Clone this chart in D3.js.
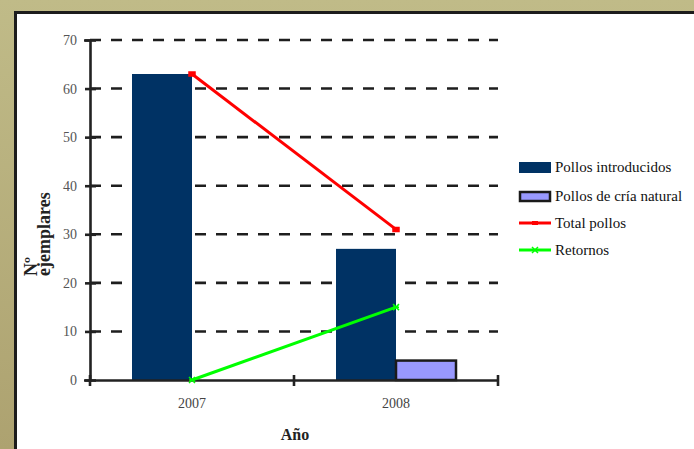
<!DOCTYPE html>
<html>
<head>
<meta charset="utf-8">
<script src="https://cdn.jsdelivr.net/npm/d3@7"></script>
<style>
  html, body { margin: 0; padding: 0; background: #bdb886; }
  svg { display: block; }
</style>
</head>
<body>
<svg id="canvas"></svg>
<script>
// chart data
var years = ["2007", "2008"];
var barSeries = ["Pollos introducidos", "Pollos de cría natural"];
var introducidos = [63, 27];
var criaNatural = [0, 4];
var totalPollos = [63, 31];
var retornos = [0, 15];
var yTicks = [0, 10, 20, 30, 40, 50, 60, 70];

document.addEventListener("DOMContentLoaded", () => {
  const W = 694, H = 449;
  const left = 90, right = 498, top = 40, bottom = 380;
  const serif = '"Liberation Serif", "Times New Roman", serif';

  var svg = d3.select('#canvas')
    .attr('width', W)
    .attr('height', H)
    .attr('font-family', serif);

  // khaki background + framed white panel
  var grad = svg.append('defs').append('linearGradient')
    .attr('id', 'bg').attr('x1', 0).attr('y1', 0).attr('x2', 0).attr('y2', 1);
  grad.append('stop').attr('offset', '0%').attr('stop-color', '#c0bb88');
  grad.append('stop').attr('offset', '100%').attr('stop-color', '#ada270');
  svg.append('rect').attr('width', W).attr('height', H).attr('fill', 'url(#bg)');
  svg.append('rect')
    .attr('x', 15.5).attr('y', 12.5)
    .attr('width', 720).attr('height', 480)
    .attr('fill', '#ffffff')
    .attr('stroke', '#1c1c1c')
    .attr('stroke-width', 3);

  var y = d3.scaleLinear().domain([0, 70]).range([bottom, top]);
  var x = d3.scaleBand().domain(years).range([left, right]).padding(0);
  var x1 = d3.scaleBand().domain(barSeries).range([0, x.bandwidth()])
    .paddingInner(0).paddingOuter(0.7);

  // dashed gridlines
  svg.append('g').selectAll('line')
    .data(yTicks.filter(d => d > 0))
    .join('line')
    .attr('x1', left).attr('x2', right)
    .attr('y1', d => y(d)).attr('y2', d => y(d))
    .attr('stroke', '#1e1e1e')
    .attr('stroke-width', 2.6)
    .attr('stroke-dasharray', '11,10');

  // bars
  var colors = { "Pollos introducidos": "#003264", "Pollos de cría natural": "#9999ff" };
  var rows = [];
  years.forEach((yr, i) => {
    rows.push({ year: yr, key: barSeries[0], value: introducidos[i] });
    rows.push({ year: yr, key: barSeries[1], value: criaNatural[i] });
  });
  svg.append('g').selectAll('rect')
    .data(rows.filter(d => d.value > 0))
    .join('rect')
    .attr('x', d => x(d.year) + x1(d.key))
    .attr('y', d => y(d.value))
    .attr('width', x1.bandwidth())
    .attr('height', d => y(0) - y(d.value))
    .attr('fill', d => colors[d.key])
    .attr('stroke', d => d.key === barSeries[1] ? '#1a1a1a' : 'none')
    .attr('stroke-width', 2.5);

  // y axis
  var yAxis = svg.append('g')
    .attr('transform', `translate(${left},0)`)
    .call(d3.axisLeft(y).tickValues(yTicks).tickSize(6).tickPadding(7));
  yAxis.attr('font-family', serif);
  yAxis.select('.domain').attr('stroke', '#222').attr('stroke-width', 2.6);
  yAxis.selectAll('.tick line').attr('x1', 6).attr('x2', -5)
    .attr('stroke', '#222').attr('stroke-width', 2.6);
  yAxis.selectAll('.tick text')
    .attr('font-size', 14).attr('fill', '#555');

  // x axis
  var xAxis = svg.append('g')
    .attr('transform', `translate(0,${bottom})`)
    .call(d3.axisBottom(x).tickSize(0).tickPadding(18));
  xAxis.attr('font-family', serif);
  xAxis.select('.domain').attr('stroke', '#222').attr('stroke-width', 2.6);
  xAxis.selectAll('.tick text')
    .attr('font-size', 14).attr('fill', '#444');
  var bounds = years.map(d => x(d)).concat([x(years[years.length - 1]) + x.bandwidth()]);
  xAxis.append('g').selectAll('line')
    .data(bounds)
    .join('line')
    .attr('x1', d => d).attr('x2', d => d)
    .attr('y1', -5).attr('y2', 6)
    .attr('stroke', '#222').attr('stroke-width', 2.6);

  // lines
  var cx = d => x(d) + x.bandwidth() / 2;
  function drawSeries(values, color, marker) {
    var pts = years.map((yr, i) => [cx(yr), y(values[i])]);
    svg.append('path')
      .attr('d', d3.line()(pts))
      .attr('fill', 'none')
      .attr('stroke', color)
      .attr('stroke-width', 3);
    svg.append('g').selectAll('path')
      .data(pts)
      .join('path')
      .attr('d', d => marker(d[0], d[1]))
      .attr('fill', color)
      .attr('stroke', color)
      .attr('stroke-width', 1.5);
  }
  var squareMark = (px, py) => `M${px - 3},${py - 2}h6v4h-6z`;
  var starMark = (px, py) => `M${px - 3},${py - 3}L${px + 3},${py + 3}M${px + 3},${py - 3}L${px - 3},${py + 3}M${px - 3},${py}h6`;
  drawSeries(totalPollos, '#ff0000', squareMark);
  drawSeries(retornos, '#00ff00', starMark);

  // axis titles
  svg.append('text')
    .attr('x', (left + right) / 2 + 1).attr('y', 440)
    .attr('text-anchor', 'middle')
    .attr('font-family', serif)
    .attr('font-size', 16).attr('font-weight', 'bold').attr('fill', '#222')
    .text('Año');
  var yt = svg.append('text')
    .attr('transform', 'translate(37,276) rotate(-90)')
    .attr('font-family', serif)
    .attr('font-size', 18).attr('font-weight', 'bold').attr('fill', '#222');
  yt.append('tspan').attr('x', 0).attr('y', 0).text('Nº');
  yt.append('tspan').attr('x', 0).attr('y', 13).text('ejemplares');

  // legend
  var legendY = [167, 196, 223, 250];
  var lg = svg.append('g').attr('transform', 'translate(519,0)');
  lg.append('rect').attr('x', 0).attr('y', legendY[0] - 5).attr('width', 32).attr('height', 11)
    .attr('fill', colors[barSeries[0]]);
  lg.append('rect').attr('x', 1).attr('y', legendY[1] - 4).attr('width', 30).attr('height', 9)
    .attr('fill', colors[barSeries[1]]).attr('stroke', '#1a1a1a').attr('stroke-width', 2.5);
  lg.append('line').attr('x1', 0).attr('x2', 32).attr('y1', legendY[2]).attr('y2', legendY[2])
    .attr('stroke', '#ff0000').attr('stroke-width', 3);
  lg.append('path').attr('d', squareMark(16, legendY[2])).attr('fill', '#ff0000');
  lg.append('line').attr('x1', 0).attr('x2', 32).attr('y1', legendY[3]).attr('y2', legendY[3])
    .attr('stroke', '#00ff00').attr('stroke-width', 3);
  lg.append('path').attr('d', starMark(16, legendY[3])).attr('stroke', '#00ff00').attr('stroke-width', 1.5);
  var labels = barSeries.concat(['Total pollos', 'Retornos']);
  lg.selectAll('text.lbl')
    .data(labels)
    .join('text')
    .attr('class', 'lbl')
    .attr('x', 36)
    .attr('y', (d, i) => legendY[i] + 5)
    .attr('font-family', serif)
    .attr('font-size', 15).attr('fill', '#111')
    .text(d => d);
});
</script>
</body>
</html>
